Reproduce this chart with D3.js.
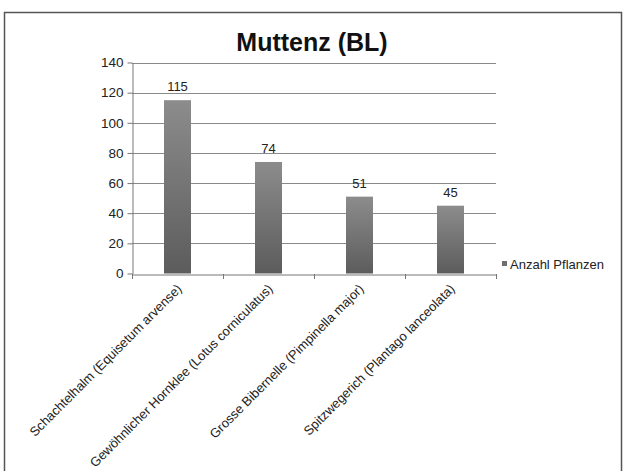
<!DOCTYPE html>
<html>
<head>
<meta charset="utf-8">
<script src="https://cdn.jsdelivr.net/npm/d3@7"></script>
<style>
  html, body { margin: 0; padding: 0; background: #fff; }
  svg { display: block; font-family: Arial, "Liberation Sans", sans-serif; }
</style>
</head>
<body>
<svg id="chart" width="624" height="471"></svg>
<script>
// Plant counts recorded at Muttenz (BL)
const categories = [
  "Schachtelhalm (Equisetum arvense)",
  "Gewöhnlicher Hornklee (Lotus corniculatus)",
  "Grosse Bibernelle (Pimpinella major)",
  "Spitzwegerich (Plantago lanceolata)"
];
const counts = [115, 74, 51, 45];
const yTicks = [0, 20, 40, 60, 80, 100, 120, 140];
const seriesName = "Anzahl Pflanzen";
const chartTitle = "Muttenz (BL)";

const svg = d3.select("#chart");
const plot = { left: 132, right: 496, top: 62.5, bottom: 273.5 };

// outer chart frame
svg.append("rect")
  .attr("x", 4.5).attr("y", 12.5)
  .attr("width", 617).attr("height", 480)
  .attr("fill", "#fff").attr("stroke", "#555").attr("stroke-width", 1.5);

// bar shading
const defs = svg.append("defs");
const grad = defs.append("linearGradient")
  .attr("id", "barGrad").attr("x1", 0).attr("y1", 0).attr("x2", 0).attr("y2", 1);
grad.append("stop").attr("offset", "0%").attr("stop-color", "#8c8c8c");
grad.append("stop").attr("offset", "100%").attr("stop-color", "#5c5c5c");

const x = d3.scaleBand().domain(categories).range([plot.left, plot.right]).paddingInner(0).paddingOuter(0);
const y = d3.scaleLinear().domain([0, 140]).range([plot.bottom, plot.top]);

// title
svg.append("text")
  .attr("x", 312).attr("y", 51)
  .attr("text-anchor", "middle")
  .attr("font-size", 25).attr("font-weight", "bold").attr("fill", "#111")
  .text(chartTitle);

// horizontal gridlines
svg.append("g").selectAll("line")
  .data(yTicks.filter(d => d > 0))
  .join("line")
  .attr("x1", plot.left).attr("x2", plot.right)
  .attr("y1", d => Math.round(y(d)) + 0.5).attr("y2", d => Math.round(y(d)) + 0.5)
  .attr("stroke", "#8a8a8a").attr("stroke-width", 1);

// y axis
const yAxis = svg.append("g")
  .attr("transform", `translate(${plot.left + 0.5},0)`)
  .call(d3.axisLeft(y).tickValues(yTicks).tickSize(5).tickPadding(4).tickSizeOuter(0));
yAxis.selectAll("text").attr("font-size", 13.5).attr("fill", "#222").attr("font-family", "Arial, 'Liberation Sans', sans-serif");
yAxis.selectAll("line, path").attr("stroke", "#777");

// bars
const barW = 27;
svg.append("g").selectAll("rect")
  .data(categories)
  .join("rect")
  .attr("x", (d) => x(d) + x.bandwidth() / 2 - barW / 2)
  .attr("y", (d, i) => y(counts[i]))
  .attr("width", barW)
  .attr("height", (d, i) => y(0) - y(counts[i]))
  .attr("fill", "url(#barGrad)");

// value labels
svg.append("g").selectAll("text")
  .data(categories)
  .join("text")
  .attr("x", d => x(d) + x.bandwidth() / 2)
  .attr("y", (d, i) => y(counts[i]) - 9)
  .attr("text-anchor", "middle")
  .attr("font-size", 13).attr("fill", "#222")
  .text((d, i) => counts[i]);

// x axis with rotated category labels
const xAxis = svg.append("g")
  .attr("transform", `translate(0,${Math.round(plot.bottom) + 0.5})`)
  .call(d3.axisBottom(x).tickSize(0).tickSizeOuter(0));
xAxis.select("path").attr("stroke", "#777");
xAxis.selectAll("text")
  .attr("font-size", 13).attr("fill", "#222")
  .attr("font-family", "Arial, 'Liberation Sans', sans-serif")
  .attr("text-anchor", "end")
  .attr("dy", null)
  .attr("transform", "translate(3,13) rotate(-45)");

// category boundary ticks
svg.append("g").selectAll("line")
  .data(d3.range(categories.length + 1))
  .join("line")
  .attr("x1", i => Math.round(plot.left + i * x.bandwidth()) + 0.5)
  .attr("x2", i => Math.round(plot.left + i * x.bandwidth()) + 0.5)
  .attr("y1", Math.round(plot.bottom)).attr("y2", Math.round(plot.bottom) + 5)
  .attr("stroke", "#777");

// legend
const lg = svg.append("g").attr("transform", "translate(502,264)");
lg.append("rect").attr("x", 0).attr("y", -3).attr("width", 5).attr("height", 5).attr("fill", "#6e6e6e");
lg.append("text").attr("x", 8).attr("y", 4.5)
  .attr("font-size", 13).attr("fill", "#222")
  .text(seriesName);
</script>
</body>
</html>
